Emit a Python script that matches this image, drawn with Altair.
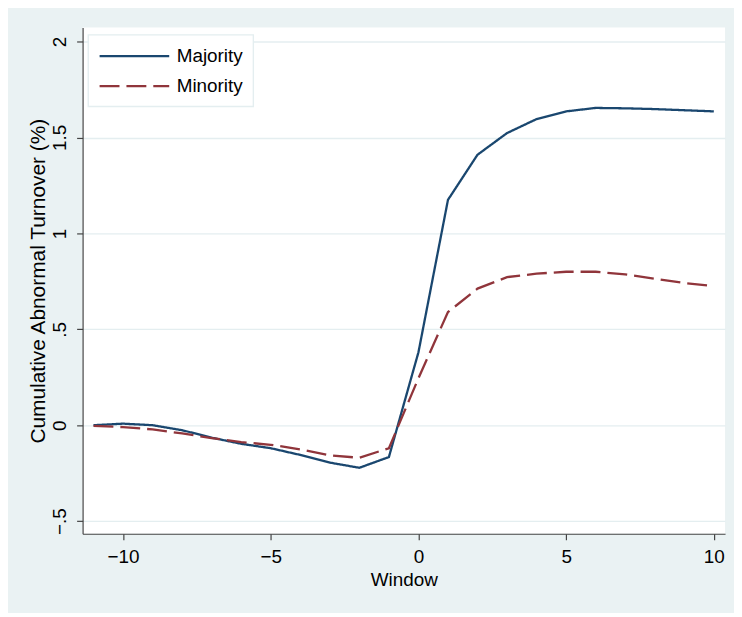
import altair as alt
import pandas as pd

window = list(range(-11, 11))
majority = [0.0, 0.008, 0.0, -0.026, -0.065, -0.097, -0.12, -0.155, -0.195, -0.222, -0.166,
            0.38, 1.175, 1.41, 1.523, 1.596, 1.636, 1.654, 1.652, 1.648, 1.642, 1.636]
minority = [-0.003, -0.01, -0.022, -0.043, -0.067, -0.088, -0.102, -0.126, -0.157, -0.17, -0.12,
            0.245, 0.59, 0.712, 0.772, 0.79, 0.80, 0.80, 0.786, 0.764, 0.741, 0.725]
groups = ["Majority", "Minority"]
colors = ["#1a476f", "#90353b"]
y_ticks = [-0.5, 0, 0.5, 1, 1.5, 2]
x_ticks = [-10, -5, 0, 5, 10]

df = pd.DataFrame({
    "Window": window * 2,
    "value": majority + minority,
    "group": [groups[0]] * len(window) + [groups[1]] * len(window),
})

FONT = "Liberation Sans"

chart = alt.Chart(df).mark_line(strokeWidth=2.3, strokeCap="butt").encode(
    x=alt.X("Window:Q",
            scale=alt.Scale(domain=[-11.37, 10.38], nice=False, zero=False),
            axis=alt.Axis(values=x_ticks, title="Window", grid=False,
                          tickSize=6, labelPadding=8, titleY=52,
                          titleFontSize=19,
                          titleBaseline="alphabetic")),
    y=alt.Y("value:Q",
            scale=alt.Scale(domain=[-0.566, 2.073], nice=False, zero=False),
            axis=alt.Axis(values=y_ticks, title="Cumulative Abnormal Turnover (%)",
                          grid=True, tickSize=6, labelAngle=-90, labelAlign="center",
                          labelBaseline="alphabetic", labelPadding=11,
                          labelExpr="replace(format(datum.value, '~g'), '0.', '.')",
                          titleFontSize=21,
                          titleAngle=-90, titleX=-38, titleY=254.5,
                          titleAlign="center", titleBaseline="alphabetic")),
    color=alt.Color("group:N", title=None,
                    scale=alt.Scale(domain=groups, range=colors)),
    strokeDash=alt.StrokeDash("group:N", title=None,
                              scale=alt.Scale(domain=groups, range=[[1, 0], [20, 7]])),
).properties(
    width=646,
    height=509,
    background="#eaf2f3",
    padding={"left": 75, "top": 18, "right": 9, "bottom": 78},
    autosize=alt.AutoSizeParams(type="none"),
).configure_view(
    fill="white",
    strokeWidth=0,
).configure_axis(
    labelFont=FONT,
    titleFont=FONT,
    labelFontSize=19,
    titleFontSize=19,
    labelColor="black",
    titleColor="black",
    titleFontWeight="normal",
    domainColor="#444444",
    domainWidth=1.2,
    tickColor="#444444",
    tickWidth=1.2,
    gridColor="#e4eef0",
    gridWidth=1.4,
    labelFlush=False,
    labelOverlap=False,
).configure_legend(
    orient="none",
    legendX=5.6,
    legendY=7.3,
    padding=10,
    rowPadding=8,
    symbolType="M-1,0H6",
    symbolSize=400,
    symbolStrokeWidth=2.3,
    symbolFillColor="transparent",
    labelOffset=56,
    labelFont=FONT,
    labelFontSize=19,
    labelColor="black",
    fillColor="white",
    strokeColor="#e4eef0",
    strokeWidth=1.4,
    cornerRadius=0,
)

chart.save("out.html", embed_options={"renderer": "svg", "actions": False})
